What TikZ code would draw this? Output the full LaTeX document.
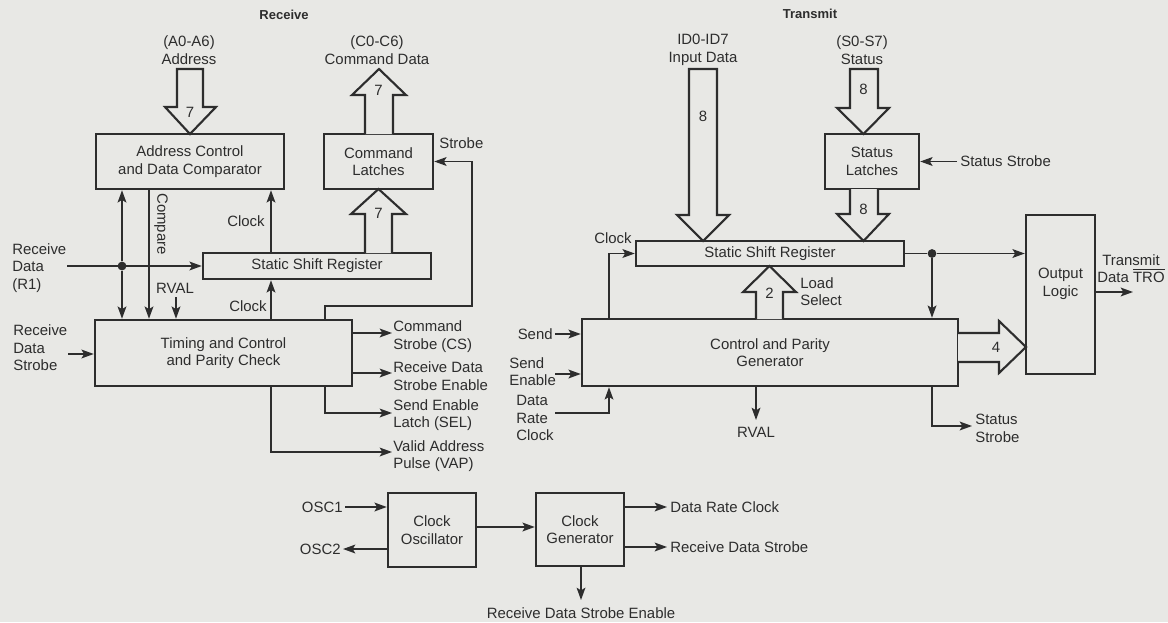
\documentclass[tikz,border=0pt]{standalone}
\usepackage{fontspec}
\setmainfont{Liberation Sans}
\usetikzlibrary{arrows.meta,calc}
\newcommand{\pxu}{0.02cm}
\definecolor{bgcol}{RGB}{232,232,229}
\definecolor{ink}{RGB}{45,45,45}
\begin{document}
\begin{tikzpicture}[x=0.02cm,y=-0.02cm,
  every node/.style={text=ink,font=\fontsize{8.5}{10}\selectfont},
  blk/.style={draw=ink,line width=1.4pt,inner sep=0pt,align=center,fill=bgcol},
  wire/.style={draw=ink,line width=0.9pt},
  tip/.style={-{Stealth[length=7pt,width=5pt,inset=1.5pt]}},
  fat/.style={draw=ink,line width=1.2pt,fill=bgcol,line join=miter},
  lbl/.style={align=left,inner sep=0pt},
  clbl/.style={align=center,inner sep=0pt},
  ttl/.style={font=\bfseries\fontsize{7.4}{9}\selectfont,inner sep=0pt},
  dotn/.style={circle,fill=ink,inner sep=0pt,minimum size=5pt}]
\fill[bgcol] (0,0) rectangle (1168,622);
\useasboundingbox (0,0) rectangle (1168,622);

% titles
\node[ttl] (tRx) at (284,15) {Receive};
\node[ttl] (tTx) at (810,14) {Transmit};

% blocks
\node[blk,minimum width=188*\pxu,minimum height=55*\pxu] (addr) at (190,161.5) {Address Control\\and Data Comparator};
\node[blk,minimum width=109*\pxu,minimum height=55*\pxu] (cmdl) at (378.5,161.5) {Command\\Latches};
\node[blk,minimum width=228*\pxu,minimum height=26*\pxu] (rssr) at (317,266) {Static Shift Register};
\node[blk,minimum width=257*\pxu,minimum height=66*\pxu] (timing) at (223.5,353) {Timing and Control\\and Parity Check};
\node[blk,minimum width=94*\pxu,minimum height=55*\pxu] (statl) at (872,161.5) {Status\\Latches};
\node[blk,minimum width=268*\pxu,minimum height=25*\pxu] (tssr) at (770,253.5) {Static Shift Register};
\node[blk,minimum width=376*\pxu,minimum height=67*\pxu] (cpg) at (770,352.5) {Control and Parity\\Generator};
\node[blk,minimum width=69*\pxu,minimum height=159*\pxu] (outl) at (1060.5,294.5) {};
\node[clbl] (outltxt) at (1060.5,284) {Output\\Logic};
\node[blk,minimum width=88*\pxu,minimum height=74*\pxu] (osc) at (432,530) {Clock\\Oscillator};
\node[blk,minimum width=88*\pxu,minimum height=73*\pxu] (gen) at (580,529.5) {Clock\\Generator};

% bus labels
\node[clbl] (lA) at (189,50) {(A0-A6)\\Address};
\node[clbl] (lC) at (377,50) {(C0-C6)\\Command Data};
\node[clbl] (lID) at (703,50) {ID0-ID7\\Input Data};
\node[clbl] (lS) at (862,50) {(S0-S7)\\Status};

% fat arrows
\draw[fat] (177,69) -- (203,69) -- (203,107) -- (216,107) -- (190,134) -- (165,107) -- (177,107) -- cycle;
\draw[fat] (365,134) -- (365,95) -- (352,95) -- (379,69) -- (406,95) -- (393,95) -- (393,134);
\draw[fat] (365,253) -- (365,214) -- (351,214) -- (378.5,189) -- (406,214) -- (392,214) -- (392,253);
\draw[fat] (689,69) -- (717,69) -- (717,215) -- (729,215) -- (703,241) -- (677,215) -- (689,215) -- cycle;
\draw[fat] (850,69) -- (878,69) -- (878,108) -- (889,108) -- (863.5,134) -- (837,108) -- (850,108) -- cycle;
\draw[fat] (850,189) -- (850,214) -- (837,214) -- (863.5,241) -- (889,214) -- (878,214) -- (878,189);
\draw[fat] (756,319) -- (756,292) -- (743,292) -- (769.5,266) -- (796,292) -- (783,292) -- (783,319);
\draw[fat] (958,333) -- (999,333) -- (999,321) -- (1026,347) -- (999,373) -- (999,362) -- (958,362);
\node[inner sep=0pt] (n7a) at (190,112) {7};
\node[inner sep=0pt] (n7b) at (378.5,90) {7};
\node[inner sep=0pt] (n7c) at (378.5,213) {7};
\node[inner sep=0pt] (n8a) at (703,116) {8};
\node[inner sep=0pt] (n8b) at (863.5,89) {8};
\node[inner sep=0pt] (n8c) at (863.5,209) {8};
\node[inner sep=0pt] (n2) at (769.5,293) {2};
\node[inner sep=0pt] (n4) at (996,347) {4};

% ---------- receive wiring
\coordinate (rdin) at (67,266);
\node[dotn] (rdot) at (122,266) {};
\draw[wire,tip] (rdin) -- (rdin -| rssr.west);
\draw[wire,tip] (rdot) -- (rdot |- addr.south);
\draw[wire,tip] (rdot) -- (rdot |- timing.north);
\node[lbl,anchor=west] (lRD) at (12,268) {Receive\\Data\\(R1)};

\coordinate (cmpx) at (149,0);
\draw[wire,tip] (addr.south -| cmpx) -- (timing.north -| cmpx);
\node[inner sep=0pt,rotate=-90] (lcmp) at (161,224) {Compare};

\coordinate (rvalrx) at (176,297);
\draw[wire,tip] (rvalrx) -- (rvalrx |- timing.north);
\node[inner sep=0pt] (lrvalrx) at (175,288) {RVAL};

\coordinate (clkx) at (271,0);
\draw[wire,tip] (rssr.north -| clkx) -- (addr.south -| clkx);
\draw[wire,tip] (timing.north -| clkx) -- (rssr.south -| clkx);
\node[inner sep=0pt] (lclk1) at (246,221) {Clock};
\node[inner sep=0pt] (lclk2) at (248,306) {Clock};

\coordinate (sA) at (325,306);
\coordinate (sB) at (472,306);
\draw[wire,tip] (timing.north -| sA) -- (sA) -- (sB) -- (sB |- cmdl.east) -- (cmdl.east);
\node[lbl,anchor=west] (lstrobe) at (439,143) {Strobe};

\coordinate (rdsin) at (68,354);
\draw[wire,tip] (rdsin) -- (rdsin -| timing.west);
\node[lbl,anchor=west] (lRDS) at (13,348) {Receive\\Data\\Strobe};

\coordinate (csend) at (392,333);
\coordinate (rdseend) at (392,373);
\coordinate (selend) at (392,413);
\coordinate (vapend) at (392,452);
\draw[wire,tip] (csend -| timing.east) -- (csend);
\draw[wire,tip] (rdseend -| timing.east) -- (rdseend);
\draw[wire,tip] (timing.south -| sA) |- (selend);
\draw[wire,tip] (timing.south -| clkx) |- (vapend);
\node[lbl,anchor=west] (lCS) at (393,336.5) {Command\\Strobe (CS)};
\node[lbl,anchor=west] (lRDSE) at (393,376) {Receive Data\\Strobe Enable};
\node[lbl,anchor=west] (lSEL) at (393,415) {Send Enable\\Latch (SEL)};
\node[lbl,anchor=west] (lVAP) at (393,456) {Valid Address\\Pulse (VAP)};

% ---------- transmit wiring
\coordinate (ssin) at (957,161.5);
\draw[wire,tip] (ssin) -- (ssin -| statl.east);
\node[lbl,anchor=west] (lss1) at (960,161.5) {Status Strobe};

\coordinate (tclk) at (609,253.5);
\draw[wire,tip] (cpg.north -| tclk) -- (tclk) -- (tclk -| tssr.west);
\node[inner sep=0pt] (lclk3) at (613,238) {Clock};
\node[lbl,anchor=west] (lLS) at (800,291.5) {Load\\Select};

\node[dotn] (tdot) at (932,253.5) {};
\draw[wire] (tssr.east) -- (tdot);
\draw[wire,tip] (tdot) -- (tdot -| outl.west);
\draw[wire,tip] (tdot) -- (tdot |- cpg.north);

\coordinate (sendin) at (555,334);
\coordinate (sein) at (555,374);
\coordinate (drcin) at (555,413);
\draw[wire,tip] (sendin) -- (sendin -| cpg.west);
\draw[wire,tip] (sein) -- (sein -| cpg.west);
\draw[wire,tip] (drcin) -| (tclk |- cpg.south);
\node[lbl,anchor=east] (lsend) at (553,334) {Send};
\node[lbl,anchor=west] (lse) at (509,371.5) {Send\\Enable};
\node[lbl,anchor=west] (ldrc) at (516,418) {Data\\Rate\\Clock};

\coordinate (rvaltx) at (756,420);
\draw[wire,tip] (rvaltx |- cpg.south) -- (rvaltx);
\node[inner sep=0pt] (lrvaltx) at (756,432) {RVAL};

\coordinate (ssout) at (972,426);
\draw[wire,tip] (tdot |- cpg.south) |- (ssout);
\node[lbl,anchor=west] (lss2) at (975,428.5) {Status\\Strobe};

\coordinate (trout) at (1133,292);
\draw[wire,tip] (trout -| outl.east) -- (trout);
\node[clbl] (ltr) at (1131,268.5) {Transmit\\Data $\overline{\mbox{TRO}}$};

% ---------- clock section
\coordinate (osc1in) at (345,507);
\coordinate (osc2out) at (343,549);
\draw[wire,tip] (osc1in) -- (osc1in -| osc.west);
\draw[wire,tip] (osc2out -| osc.west) -- (osc2out);
\node[lbl,anchor=east] (losc1) at (343,507) {OSC1};
\node[lbl,anchor=east] (losc2) at (341,549) {OSC2};

\coordinate (oscgen) at (476,527);
\draw[wire,tip] (osc.east |- oscgen) -- (gen.west |- oscgen);

\coordinate (drcout) at (667,507);
\coordinate (rdsout) at (667,547);
\coordinate (rdseout) at (581,600);
\draw[wire,tip] (drcout -| gen.east) -- (drcout);
\draw[wire,tip] (rdsout -| gen.east) -- (rdsout);
\draw[wire,tip] (gen.south -| rdseout) -- (rdseout);
\node[lbl,anchor=west] (ldrco) at (670,507) {Data Rate Clock};
\node[lbl,anchor=west] (lrdso) at (670,547) {Receive Data Strobe};
\node[clbl] (lrdseo) at (581,613) {Receive Data Strobe Enable};
\end{tikzpicture}
\end{document}
